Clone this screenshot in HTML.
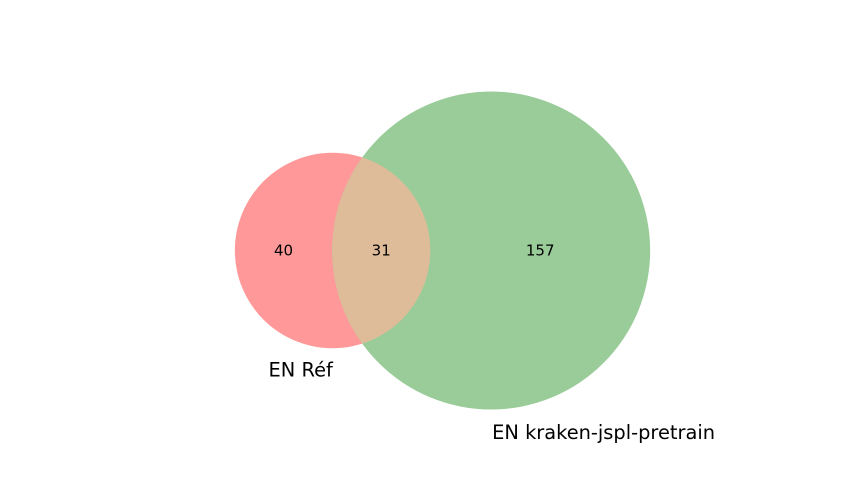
<!DOCTYPE html>
<html><head><meta charset="utf-8"><style>
html,body{margin:0;padding:0;background:#fff;}
svg{display:block;font-family:"DejaVu Sans","Liberation Sans",sans-serif;}
</style></head><body>
<svg id="chart" width="864" height="504" viewBox="0 0 864 504" xmlns="http://www.w3.org/2000/svg"></svg>
<script>
const setNames = ["EN Réf", "EN kraken-jspl-pretrain"];
const onlyA = 40;
const onlyB = 157;
const both = 31;

const svg = document.getElementById('chart');
const NS = 'http://www.w3.org/2000/svg';
const totA = onlyA + both, totB = onlyB + both;
const k = 159 / Math.sqrt(188);
const rA = k * Math.sqrt(totA), rB = k * Math.sqrt(totB);
function lens(d){
  if (d >= rA + rB) return 0;
  if (d <= Math.abs(rA - rB)) return Math.PI * Math.min(rA, rB) ** 2;
  const a = rA*rA*Math.acos((d*d + rA*rA - rB*rB)/(2*d*rA));
  const b = rB*rB*Math.acos((d*d + rB*rB - rA*rA)/(2*d*rB));
  const c = 0.5*Math.sqrt((-d+rA+rB)*(d+rA-rB)*(d-rA+rB)*(d+rA+rB));
  return a + b - c;
}
const target = both * k * k * Math.PI;
let lo = Math.abs(rA - rB), hi = rA + rB;
for (let i = 0; i < 60; i++){ const m = (lo+hi)/2; if (lens(m) > target) lo = m; else hi = m; }
const d = (lo+hi)/2;
const midX = 442.5, cy = 250.5;
const left = midX - (rA + d + rB)/2;
const cxA = left + rA, cxB = cxA + d;

function el(tag, attrs, name){
  const e = document.createElementNS(NS, tag);
  for (const a in attrs) e.setAttribute(a, attrs[a]);
  
  
  svg.appendChild(e); return e;
}
const defs = document.createElementNS(NS, 'defs');
defs.innerHTML = `<clipPath id="clipA"><circle cx="${cxA}" cy="${cy}" r="${rA}"/></clipPath>`;
svg.appendChild(defs);
el('circle', {cx: cxA, cy, r: rA, fill: '#ff9999'}, 'circle-a');
el('circle', {cx: cxB, cy, r: rB, fill: '#99cc99'}, 'circle-b');
el('circle', {cx: cxB, cy, r: rB, fill: '#dfbc99', 'clip-path': 'url(#clipA)'}, 'intersection');

function txt(x, y, s, size, anchor, name){
  const t = el('text', {x, y, 'font-size': size, 'text-anchor': anchor, fill: '#000', 'dominant-baseline': 'central'}, name);
  t.textContent = s; return t;
}
txt(((cxA - rA) + (cxB - rB))/2, cy, onlyA, 15, 'middle', 'label-a-only');
txt(((cxB - rB) + (cxA + rA))/2, cy, both, 15, 'middle', 'label-intersection');
txt(((cxA + rA) + (cxB + rB))/2, cy, onlyB, 15, 'middle', 'label-b-only');
txt(cxA - 64, cy + rA + 22, setNames[0], 19.4, 'start', 'set-label-a');
txt(cxB + 1, cy + rB + 23, setNames[1], 19.4, 'start', 'set-label-b');
</script>
</body></html>
